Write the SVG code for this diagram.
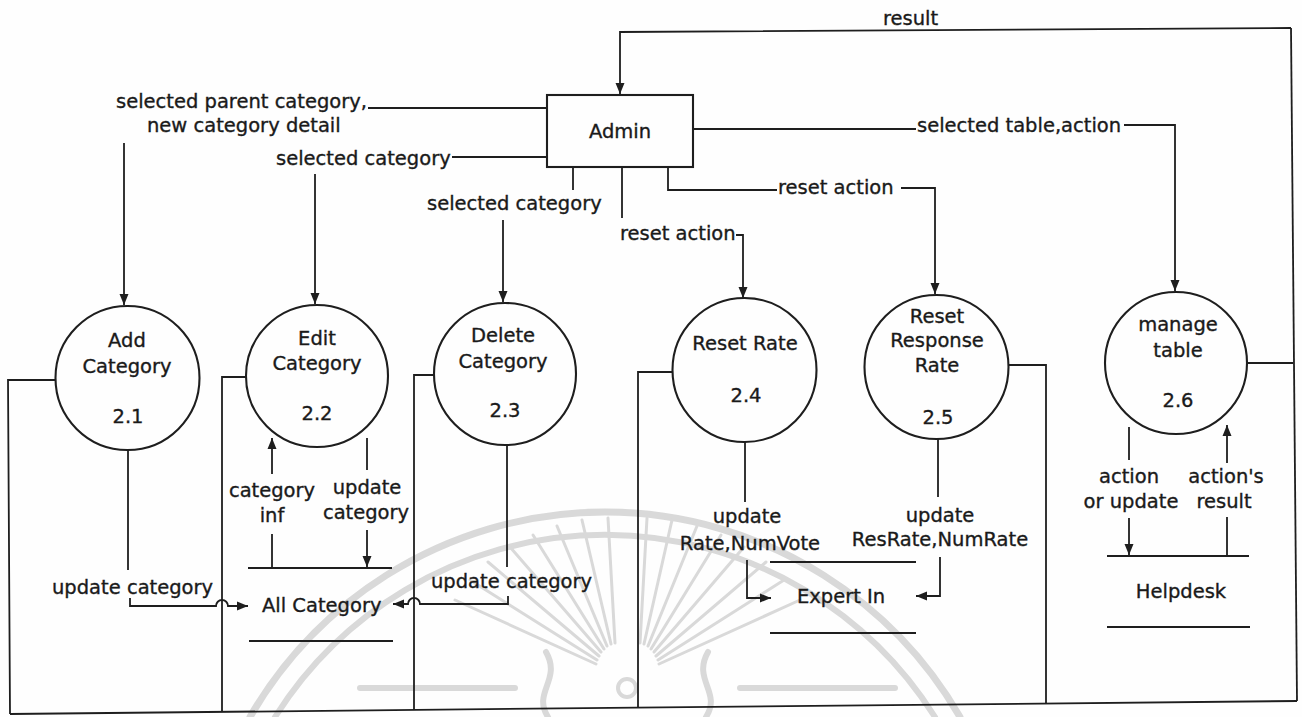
<svg xmlns="http://www.w3.org/2000/svg" width="1302" height="717" viewBox="0 0 1302 717">
  <style>
    .bg { fill: #fefefe; }
    .ln { fill: none; stroke: #1e1e1e; stroke-width: 1.8; }
    .bub { fill: none; stroke: #1e1e1e; stroke-width: 2.1; }
    .box { fill: none; stroke: #1e1e1e; stroke-width: 2.1; }
    .ds { fill: none; stroke: #1e1e1e; stroke-width: 1.8; }
    text { font-family: "DejaVu Sans", Verdana, sans-serif; font-size: 19.5px; fill: #1a1a1a; stroke: #1a1a1a; stroke-width: 0.35; }
    .c { text-anchor: middle; }
    .wm { fill: none; stroke: #d9d9d9; stroke-linecap: round; }
  </style>
  <defs>
    <marker id="arr" markerUnits="userSpaceOnUse" markerWidth="12" markerHeight="10" refX="11" refY="5" orient="auto">
      <path d="M0,0.5 L11,5 L0,9.5 z" fill="#1e1e1e"/>
    </marker>
  </defs>

  <rect class="bg" x="0" y="0" width="1302" height="717"/>

  <!-- faint emblem printed behind the chart -->
  <g id="emblem">
    <path class="wm" stroke-width="7" d="M250,717 A410,410 0 0 1 960,717"/>
    <path class="wm" stroke-width="6" d="M275,717 A390,390 0 0 1 935,717"/>
    <g class="wm" stroke-width="3">
      <line x1="596" y1="664" x2="455" y2="600"/>
      <line x1="597" y1="660" x2="470" y2="580"/>
      <line x1="599" y1="656" x2="488" y2="562"/>
      <line x1="601" y1="652" x2="510" y2="547"/>
      <line x1="604" y1="649" x2="533" y2="535"/>
      <line x1="607" y1="646" x2="557" y2="526"/>
      <line x1="611" y1="644" x2="582" y2="520"/>
      <line x1="615" y1="643" x2="608" y2="518"/>
      <line x1="640" y1="643" x2="647" y2="518"/>
      <line x1="644" y1="644" x2="672" y2="520"/>
      <line x1="648" y1="646" x2="697" y2="526"/>
      <line x1="651" y1="649" x2="721" y2="535"/>
      <line x1="654" y1="652" x2="744" y2="547"/>
      <line x1="656" y1="656" x2="766" y2="562"/>
      <line x1="658" y1="660" x2="784" y2="580"/>
      <line x1="659" y1="664" x2="800" y2="600"/>
    </g>
    <g class="wm" stroke-width="6">
      <line x1="360" y1="688" x2="515" y2="688"/>
      <line x1="740" y1="688" x2="895" y2="688"/>
    </g>
    <circle class="wm" stroke-width="4" cx="627" cy="688" r="9"/>
    <path class="wm" stroke-width="6" d="M548,717 C532,692 562,680 546,652 M706,717 C722,692 692,680 708,652"/>
  </g>

  <!-- external entity -->
  <g id="admin">
    <rect class="box" x="547" y="95" width="146" height="72"/>
    <text class="c" x="620" y="138">Admin</text>
  </g>

  <!-- processes -->
  <g id="p21">
    <circle class="bub" cx="127.5" cy="378" r="72"/>
    <text class="c" x="127" y="347">Add</text>
    <text class="c" x="127" y="373">Category</text>
    <text class="c" x="128" y="423">2.1</text>
  </g>
  <g id="p22">
    <circle class="bub" cx="317" cy="376" r="71"/>
    <text class="c" x="317" y="345">Edit</text>
    <text class="c" x="317" y="370">Category</text>
    <text class="c" x="317" y="420">2.2</text>
  </g>
  <g id="p23">
    <circle class="bub" cx="505" cy="374" r="71"/>
    <text class="c" x="503" y="342">Delete</text>
    <text class="c" x="503" y="368">Category</text>
    <text class="c" x="505" y="417">2.3</text>
  </g>
  <g id="p24">
    <circle class="bub" cx="744.5" cy="370" r="72"/>
    <text class="c" x="745" y="350">Reset Rate</text>
    <text class="c" x="746" y="402">2.4</text>
  </g>
  <g id="p25">
    <circle class="bub" cx="936.5" cy="367" r="72"/>
    <text class="c" x="937" y="323">Reset</text>
    <text class="c" x="937" y="347">Response</text>
    <text class="c" x="937" y="372">Rate</text>
    <text class="c" x="938" y="424">2.5</text>
  </g>
  <g id="p26">
    <circle class="bub" cx="1176" cy="363" r="71"/>
    <text class="c" x="1178" y="331">manage</text>
    <text class="c" x="1178" y="357">table</text>
    <text class="c" x="1178" y="407">2.6</text>
  </g>

  <!-- data stores -->
  <g id="store-all-category">
    <line class="ds" x1="248" y1="568" x2="392" y2="568"/>
    <line class="ds" x1="249" y1="641" x2="393" y2="641"/>
    <text x="262" y="612">All Category</text>
  </g>
  <g id="store-expert-in">
    <line class="ds" x1="770" y1="562" x2="916" y2="562"/>
    <line class="ds" x1="770" y1="633" x2="916" y2="633"/>
    <text x="797" y="603">Expert In</text>
  </g>
  <g id="store-helpdesk">
    <line class="ds" x1="1107" y1="556" x2="1249" y2="556"/>
    <line class="ds" x1="1107" y1="627" x2="1250" y2="627"/>
    <text class="c" x="1181" y="598">Helpdesk</text>
  </g>

  <!-- enclosing frame lines -->
  <g id="frame">
    <path class="ln" d="M56,380 H8 L10,714"/>
    <path class="ln" d="M246,377 H222 V712"/>
    <path class="ln" d="M434,375 H414 V710"/>
    <path class="ln" d="M672,372 H638 V707.5"/>
    <path class="ln" d="M1008,365 H1046 V703.5"/>
    <path class="ln" d="M1291,28 L1297,701"/>
    <path class="ln" d="M10,714 L1297,701"/>
  </g>

  <!-- data flows -->
  <g id="connectors">
    <!-- 2.6 result back to Admin -->
    <path class="ln" d="M1247,363 H1293"/>
    <path class="ln" d="M1291,28 L620,32 V94" marker-end="url(#arr)"/>
    <text x="883" y="25">result</text>

    <!-- Admin to 2.1 -->
    <path class="ln" d="M547,108 H368"/>
    <text x="116" y="108">selected parent category,</text>
    <text x="147" y="132">new category detail</text>
    <path class="ln" d="M124,143 V305" marker-end="url(#arr)"/>

    <!-- Admin to 2.2 -->
    <path class="ln" d="M547,157 H452"/>
    <text x="276" y="165">selected category</text>
    <path class="ln" d="M315,174 V304" marker-end="url(#arr)"/>

    <!-- Admin to 2.3 -->
    <path class="ln" d="M573,168 V190"/>
    <text x="427" y="210">selected category</text>
    <path class="ln" d="M503,220 V302" marker-end="url(#arr)"/>

    <!-- Admin to 2.4 -->
    <path class="ln" d="M622,168 V218"/>
    <text x="620" y="240">reset action</text>
    <path class="ln" d="M736,235 H743 V298" marker-end="url(#arr)"/>

    <!-- Admin to 2.5 -->
    <path class="ln" d="M668,168 V190 H777"/>
    <text x="778" y="194">reset action</text>
    <path class="ln" d="M901,188 H935 V294" marker-end="url(#arr)"/>

    <!-- Admin to 2.6 -->
    <path class="ln" d="M693,129 H916"/>
    <text x="917" y="132">selected table,action</text>
    <path class="ln" d="M1124,125 H1175 V291" marker-end="url(#arr)"/>

    <!-- 2.1 to All Category -->
    <path class="ln" d="M128,451 V570"/>
    <text x="52" y="594">update category</text>
    <path class="ln" d="M130,598 V606 H216 A6,6 0 0 1 228,606 H248" marker-end="url(#arr)"/>

    <!-- All Category to 2.2 -->
    <path class="ln" d="M272,568 V534"/>
    <text class="c" x="272" y="497">category</text>
    <text class="c" x="272" y="522">inf</text>
    <path class="ln" d="M272,474 V438" marker-end="url(#arr)"/>

    <!-- 2.2 to All Category -->
    <path class="ln" d="M367,438 V470"/>
    <text class="c" x="367" y="494">update</text>
    <text class="c" x="366" y="519">category</text>
    <path class="ln" d="M367,530 V567" marker-end="url(#arr)"/>

    <!-- 2.3 to All Category -->
    <path class="ln" d="M507,445 V567"/>
    <text x="431" y="588">update category</text>
    <path class="ln" d="M508,596 V604 H420 A6,6 0 0 0 408,604 H393" marker-end="url(#arr)"/>

    <!-- 2.4 to Expert In -->
    <path class="ln" d="M745,442 V502"/>
    <text class="c" x="747" y="523">update</text>
    <text class="c" x="750" y="550">Rate,NumVote</text>
    <path class="ln" d="M747,560 V598 H771" marker-end="url(#arr)"/>

    <!-- 2.5 to Expert In -->
    <path class="ln" d="M938,439 V497"/>
    <text class="c" x="940" y="522">update</text>
    <text class="c" x="940" y="546">ResRate,NumRate</text>
    <path class="ln" d="M940,557 V596 H916" marker-end="url(#arr)"/>

    <!-- 2.6 to Helpdesk -->
    <path class="ln" d="M1129,427 V460"/>
    <text class="c" x="1129" y="483">action</text>
    <text class="c" x="1131" y="508">or update</text>
    <path class="ln" d="M1129,518 V555" marker-end="url(#arr)"/>

    <!-- Helpdesk to 2.6 -->
    <path class="ln" d="M1227,556 V517"/>
    <text class="c" x="1226" y="483">action's</text>
    <text class="c" x="1224" y="508">result</text>
    <path class="ln" d="M1227,463 V425" marker-end="url(#arr)"/>
  </g>
</svg>
